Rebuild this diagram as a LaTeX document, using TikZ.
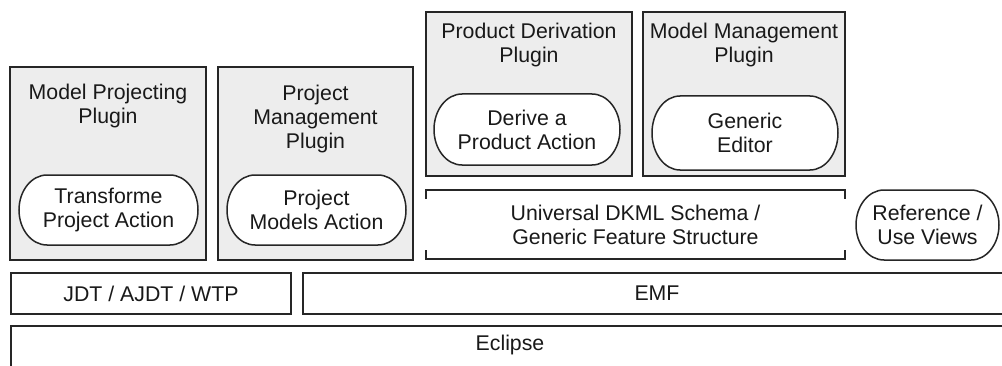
\documentclass[tikz,border=0pt]{standalone}
\usepackage{fontspec}
\setmainfont{Liberation Sans}
\begin{document}
\begin{tikzpicture}[x=1pt,y=1pt,line width=1.5pt,
  plugin/.style={draw=black!85,fill=black!7},
  plainbox/.style={draw=black!85,fill=white},
  txt/.style={font=\fontsize{21.3}{24}\selectfont,align=center,inner sep=0pt,text=black!90}]
\useasboundingbox (0,0) rectangle (1002,365);
\clip (0,0) rectangle (1002,365);
% ---- helper for ovals (elliptical ends)
\newcommand\ovalpath[5]{% x1, ytop, x2, ybot (in image coords), xr
  \draw[fill=white,draw=black!85] ({#1+#5},{365-#2}) -- ({#3-#5},{365-#2})
    arc[start angle=90,end angle=-90,x radius=#5,y radius={(#4-#2)/2}]
    -- ({#1+#5},{365-#4})
    arc[start angle=270,end angle=90,x radius=#5,y radius={(#4-#2)/2}] -- cycle;}
% ---- plugin boxes
\draw[plugin] (10,{365-67}) rectangle (206,{365-260});
\draw[plugin] (218,{365-67}) rectangle (413,{365-260});
\draw[plugin] (426,{365-12}) rectangle (632,{365-176});
\draw[plugin] (643,{365-12}) rectangle (845,{365-176});
\node[txt,anchor=north] (mpp) at (108,{365-83}) {Model Projecting\\Plugin};
\node[txt,anchor=north] (pmp) at (315.5,{365-84}) {Project\\Management\\Plugin};
\node[txt,anchor=north] (pdp) at (529,{365-22}) {Product Derivation\\Plugin};
\node[txt,anchor=north] (mmp) at (744,{365-22}) {Model Management\\Plugin};
% ---- ovals
\ovalpath{19}{175}{198}{245}{28}
\ovalpath{227}{175}{406}{245}{28}
\ovalpath{434}{94}{620}{165}{28}
\ovalpath{652}{96}{838}{170}{28}
\ovalpath{856}{190}{999}{260}{28}
\node[txt] (tpa) at (108.5,{365-210}) {Transforme\\Project Action};
\node[txt] (pma) at (316.5,{365-210}) {Project\\Models Action};
\node[txt] (dpa) at (527,{365-129.5}) {Derive a\\Product Action};
\node[txt] (ged) at (745,{365-133}) {Generic\\Editor};
\node[txt] (ruv) at (927.5,{365-225}) {Reference /\\Use Views};
% ---- bracket box
\draw[draw=black!85] (426,{365-199}) -- (426,{365-190}) -- (845,{365-190}) -- (845,{365-199});
\draw[draw=black!85] (426,{365-250}) -- (426,{365-259}) -- (845,{365-259}) -- (845,{365-250});
\node[txt] (udk) at (635.5,{365-224.5}) {Universal DKML Schema /\\Generic Feature Structure};
% ---- bottom layers
\draw[plainbox] (11,{365-273}) rectangle (291,{365-314});
\draw[plainbox] (303,{365-273}) rectangle (1011,{365-314});
\draw[plainbox] (11,{365-326}) rectangle (1009,{365-380});
\node[txt] (jdt) at (151,{365-293.5}) {JDT / AJDT / WTP};
\node[txt] (emf) at (657,{365-293.5}) {EMF};
\node[txt] (ecl) at (510,{365-345}) {Eclipse};
\end{tikzpicture}
\end{document}
